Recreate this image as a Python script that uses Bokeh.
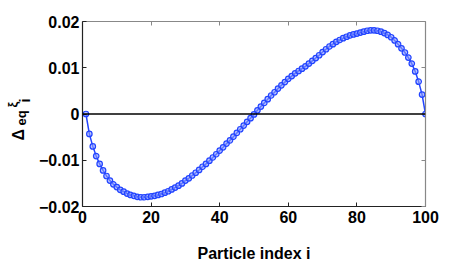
import math
from bokeh.plotting import figure
from bokeh.layouts import row
from bokeh.models import LinearAxis, FixedTicker, Span, Label, Range1d, ColumnDataSource
from bokeh.embed import file_html
from bokeh.resources import INLINE

# ---- data ----
particle_index = list(range(1, 101))
delta_eq_xi = [
    0.0, -0.0043, -0.0070, -0.0091, -0.0108, -0.0122, -0.0134, -0.0144, -0.0152, -0.0158,
    -0.0164, -0.0168, -0.0172, -0.0175, -0.0177, -0.0179, -0.0180, -0.0180, -0.0179, -0.0178,
    -0.0177, -0.0175, -0.0173, -0.0170, -0.0167, -0.0163, -0.0159, -0.0155, -0.0150, -0.0144,
    -0.0139, -0.0133, -0.0127, -0.0121, -0.0114, -0.0108, -0.0101, -0.0094, -0.0087, -0.0079,
    -0.0072, -0.0064, -0.0057, -0.0049, -0.0041, -0.0033, -0.0025, -0.0017, -0.0009, -0.0001,
    0.0008, 0.0016, 0.0024, 0.0032, 0.0040, 0.0047, 0.0055, 0.0062, 0.0069, 0.0076,
    0.0082, 0.0088, 0.0093, 0.0098, 0.0103, 0.0109, 0.0115, 0.0121, 0.0127, 0.0134,
    0.0140, 0.0146, 0.0151, 0.0156, 0.0160, 0.0164, 0.0167, 0.0170, 0.0172, 0.0174,
    0.0176, 0.0178, 0.0180, 0.0181, 0.0181, 0.0180, 0.0178, 0.0175, 0.0171, 0.0166,
    0.0159, 0.0151, 0.0142, 0.0133, 0.0122, 0.0109, 0.0092, 0.0070, 0.0042, 0.0,
]
x_ticks = [0, 20, 40, 60, 80, 100]
x_tick_labels = ["0", "20", "40", "60", "80", "100"]
y_ticks = [-0.02, -0.01, 0.0, 0.01, 0.02]
y_tick_labels = ["\u22120.02", "\u22120.01", "0", "0.01", "0.02"]
x_label = "Particle index i"

FONT = "Liberation Sans"
BLUE = "#2244ff"
H = 272
LW = 36
TOP, BOT = 21, 66

yr = Range1d(-0.02, 0.02)
p = figure(width=461 - LW, height=H, output_backend="svg", toolbar_location=None,
           x_range=Range1d(0, 100), y_range=yr,
           x_axis_location=None, y_axis_location=None,
           min_border_left=81 - LW, min_border_right=36, min_border_top=TOP, min_border_bottom=BOT)
p.outline_line_color = None
p.grid.visible = False
p.background_fill_color = "white"
p.border_fill_color = "white"

def style_axis(ax, ticks, labels, show_labels, color):
    ax.ticker = FixedTicker(ticks=ticks)
    ax.minor_tick_line_color = None
    ax.major_tick_in = 4
    ax.major_tick_out = 0
    ax.major_tick_line_color = color
    ax.axis_line_color = color
    ax.axis_line_width = 1.2
    if show_labels:
        ax.major_label_overrides = {t: l for t, l in zip(ticks, labels)}
        ax.major_label_text_font = FONT
        ax.major_label_text_font_style = "bold"
        ax.major_label_text_font_size = "16px"
        ax.major_label_text_color = "black"
    else:
        ax.major_label_overrides = {t: "" for t in ticks}
        ax.major_label_standoff = 0

bottom = LinearAxis()
style_axis(bottom, x_ticks, x_tick_labels, True, "#222222")
bottom.major_label_standoff = 4
bottom.axis_label = x_label
bottom.axis_label_text_font = FONT
bottom.axis_label_text_font_style = "bold"
bottom.axis_label_text_font_size = "16px"
bottom.axis_label_text_color = "black"
bottom.axis_label_standoff = 19
p.add_layout(bottom, "below")

left = LinearAxis()
style_axis(left, y_ticks, y_tick_labels, True, "#222222")
left.major_label_standoff = 3
p.add_layout(left, "left")

top = LinearAxis()
style_axis(top, x_ticks, x_tick_labels, False, "#888888")
p.add_layout(top, "above")

right = LinearAxis()
style_axis(right, y_ticks, y_tick_labels, False, "#888888")
p.add_layout(right, "right")

p.add_layout(Span(location=0, dimension="width", line_color="black", line_width=1.5))

src = ColumnDataSource(dict(x=particle_index, y=delta_eq_xi))
p.line("x", "y", source=src, line_color=BLUE, line_width=1.5)
p.scatter("x", "y", source=src, marker="circle", size=5.5, line_color=BLUE,
          line_width=1.2, fill_color="#8899ff", fill_alpha=0.6)

# narrow strip on the left that carries the rotated y-axis label: Δ_eq ξ_i
lab = figure(width=LW, height=H, output_backend="svg", toolbar_location=None,
             x_range=Range1d(0, LW), y_range=yr,
             x_axis_location=None, y_axis_location=None,
             min_border_left=0, min_border_right=0, min_border_top=TOP, min_border_bottom=BOT)
lab.outline_line_color = None
lab.grid.visible = False
lab.border_fill_color = "white"

# vertical position of each piece in value units (page y -> value)
def yval(py):
    return (113.5 - py) / 4625.0

def ylab(text, px, py, size):
    lab.add_layout(Label(x=px, y=yval(py), x_units="data", y_units="data", text=text,
                         angle=math.pi / 2, text_align="left", text_baseline="alphabetic",
                         text_font=FONT, text_font_style="bold", text_font_size=size,
                         text_color="black"))

ylab("\u0394", 18, 140, "16px")
ylab("eq", 20.5, 125, "13px")
ylab("\u03be", 11.5, 107, "13px")
ylab("i", 24, 102, "14px")

layout = row(lab, p, spacing=0)
open("out.html", "w").write(file_html(layout, INLINE))
